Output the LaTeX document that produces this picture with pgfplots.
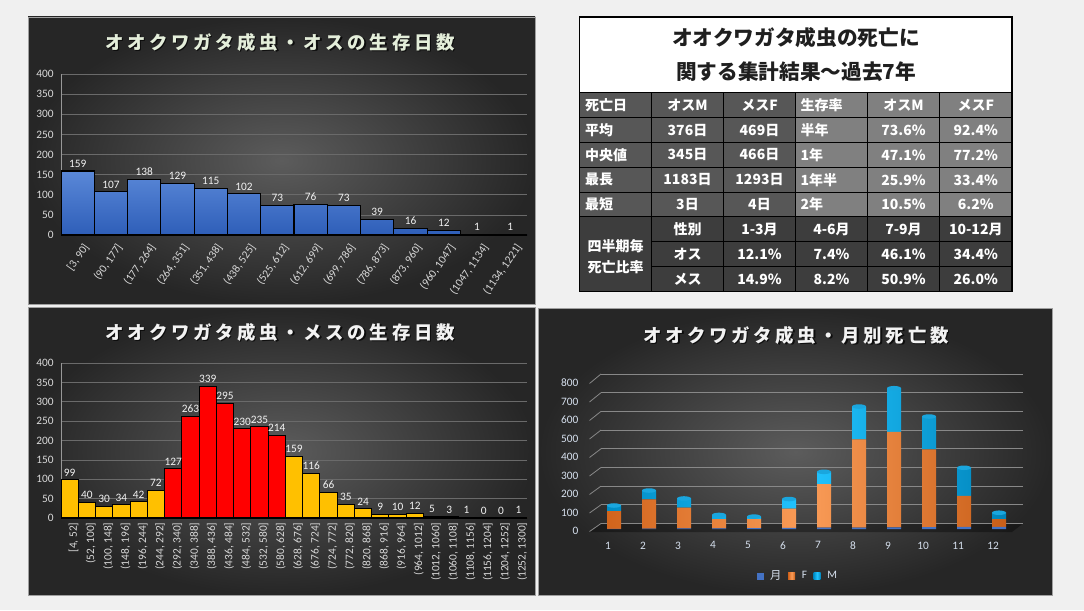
\documentclass[border=0pt]{standalone}
\usepackage{pgfplots}
\pgfplotsset{compat=1.18}
\usepackage{fontspec}
\setmainfont{Carlito}
\newfontfamily\jp{Noto Sans CJK JP}
\newfontfamily\jpt{Noto Sans CJK JP}[LetterSpace=20]
\definecolor{pagebg}{HTML}{F0F0F0}
\definecolor{pin}{HTML}{5C5C5C}
\definecolor{pout}{HTML}{262626}
\definecolor{gridc}{HTML}{6A6A6A}
\definecolor{tickc}{HTML}{D9D9D9}
\definecolor{tickb}{HTML}{D6E0EE}
\definecolor{titleg}{HTML}{E4EEDA}
\definecolor{titlew}{HTML}{F2F2F2}
\definecolor{bluetop}{HTML}{5A88D8}
\definecolor{bluebot}{HTML}{2E5EB8}
\definecolor{fred}{HTML}{FF0000}
\definecolor{fyel}{HTML}{FFC000}
\definecolor{oL}{HTML}{D2641C}
\definecolor{oM}{HTML}{FA9C58}
\definecolor{oR}{HTML}{C85E18}
\definecolor{cL}{HTML}{008CC4}
\definecolor{cM}{HTML}{22C4FF}
\definecolor{cR}{HTML}{0084BA}
\definecolor{capc}{HTML}{1AA6DE}
\definecolor{mblue}{HTML}{4472C4}
\definecolor{tdark}{HTML}{575757}
\definecolor{tmid}{HTML}{808080}
\definecolor{tlow}{HTML}{3D3D3D}
\pgfdeclareplotmark{cap}{\pgfpathellipse{\pgfpointorigin}{\pgfpoint{5.25pt}{0pt}}{\pgfpoint{0pt}{1.7pt}}\pgfusepathqfill}
\pgfplotsset{
  /pgf/number format/assume math mode=true,
  hist/.style={
    scale only axis, anchor=south west,
    ymin=0, ymax=400, ytick={0,50,...,400},
    axis x line*=bottom, axis y line*=left,
    x axis line style={draw=tickc!80!black, line width=0.6pt},
    y axis line style={draw=tickc!70!black, line width=0.6pt},
    major tick length=0pt,
    ymajorgrids, grid style={gridc, line width=0.5pt},
    yticklabel style={font=\fontsize{8.5}{10}\selectfont, text=tickc, xshift=-2pt},
    nodes near coords style={font=\fontsize{8.5}{10}\selectfont, text=titlew, anchor=south, yshift=-1pt},
  }
}
\begin{document}
\begin{tikzpicture}
\begin{scope}[x=0.75pt,y=-0.75pt]
\fill[pagebg] (0,0) rectangle (1084,610);
\shade[inner color=pin, outer color=pout] (28,17) rectangle (535,304);
\shade[inner color=pin, outer color=pout] (28,307.5) rectangle (535,595);
\shade[inner color=pin, outer color=pout] (538.5,308.5) rectangle (1052.5,595);
\draw[gray!75, line width=0.5pt] (28,17) rectangle (535,304);
\draw[gray!75, line width=0.5pt] (28,307.5) rectangle (535,595);
\draw[gray!75, line width=0.5pt] (538.5,308.5) rectangle (1052.5,595);
% titles
\node[text=black, opacity=0.7] at (281.5,43.5) {\jpt\bfseries\fontsize{13.8}{16}\selectfont オオクワガタ成虫・オスの生存日数};
\node[text=titleg] at (280,42) {\jpt\bfseries\fontsize{13.8}{16}\selectfont オオクワガタ成虫・オスの生存日数};
\node[text=black, opacity=0.7] at (281.5,333.5) {\jpt\bfseries\fontsize{13.8}{16}\selectfont オオクワガタ成虫・メスの生存日数};
\node[text=titlew] at (280,332) {\jpt\bfseries\fontsize{13.8}{16}\selectfont オオクワガタ成虫・メスの生存日数};
\node[text=black, opacity=0.7] at (797.5,336.5) {\jpt\bfseries\fontsize{13.8}{16}\selectfont オオクワガタ成虫・月別死亡数};
\node[text=titlew] at (796,335) {\jpt\bfseries\fontsize{13.8}{16}\selectfont オオクワガタ成虫・月別死亡数};
% table
\fill[white] (579.5,17) rectangle (1012,92.7);
\node[text=black!88] at (796,38) {\jp\bfseries\fontsize{15.5}{18}\selectfont オオクワガタ成虫の死亡に};
\node[text=black!88] at (796,72) {\jp\bfseries\fontsize{15.5}{18}\selectfont 関する集計結果〜過去7年};
\fill[tdark] (579.5,92.7) rectangle (795.3,216.1);
\fill[tmid] (795.3,92.7) rectangle (1012,216.1);
\fill[tlow] (579.5,216.1) rectangle (1012,291.7);
\foreach \yy in {92.7,117.6,142.4,167.3,192.2,216.1} {\draw[black, line width=0.6pt] (579.5,\yy) -- (1012,\yy);}
\foreach \yy in {241.3,266.5} {\draw[black, line width=0.6pt] (651.3,\yy) -- (1012,\yy);}
\foreach \xx in {651.3,723.7,795.3,867.3,939.7} {\draw[black, line width=0.6pt] (\xx,92.7) -- (\xx,291.7);}
\draw[black, line width=0.8pt] (579.5,17) rectangle (1012,291.7);
\begin{scope}[every node/.style={text=white, font=\jp\bfseries\fontsize{10.5}{12}\selectfont}]
\node[anchor=west] at (580.5,105.1) {死亡日};
\node at (687.5,105.1) {オスM};
\node at (759.5,105.1) {メスF};
\node[anchor=west] at (796,105.1) {生存率};
\node at (903.5,105.1) {オスM};
\node at (975.8,105.1) {メスF};
\node[anchor=west] at (580.5,130) {平均};
\node at (687.5,130) {376日};
\node at (759.5,130) {469日};
\node[anchor=west] at (796,130) {半年};
\node at (903.5,130) {73.6\%};
\node at (975.8,130) {92.4\%};
\node[anchor=west] at (580.5,154.9) {中央値};
\node at (687.5,154.9) {345日};
\node at (759.5,154.9) {466日};
\node[anchor=west] at (796,154.9) {1年};
\node at (903.5,154.9) {47.1\%};
\node at (975.8,154.9) {77.2\%};
\node[anchor=west] at (580.5,179.8) {最長};
\node at (687.5,179.8) {1183日};
\node at (759.5,179.8) {1293日};
\node[anchor=west] at (796,179.8) {1年半};
\node at (903.5,179.8) {25.9\%};
\node at (975.8,179.8) {33.4\%};
\node[anchor=west] at (580.5,204.6) {最短};
\node at (687.5,204.6) {3日};
\node at (759.5,204.6) {4日};
\node[anchor=west] at (796,204.6) {2年};
\node at (903.5,204.6) {10.5\%};
\node at (975.8,204.6) {6.2\%};
\node at (615.5,246.5) {四半期毎};
\node at (615.5,267) {死亡比率};
\node at (687.5,229.5) {性別};
\node at (759.5,229.5) {1-3月};
\node at (831.5,229.5) {4-6月};
\node at (903.5,229.5) {7-9月};
\node at (975.8,229.5) {10-12月};
\node at (687.5,254.4) {オス};
\node at (759.5,254.4) {12.1\%};
\node at (831.5,254.4) {7.4\%};
\node at (903.5,254.4) {46.1\%};
\node at (975.8,254.4) {34.4\%};
\node at (687.5,279.3) {メス};
\node at (759.5,279.3) {14.9\%};
\node at (831.5,279.3) {8.2\%};
\node at (903.5,279.3) {50.9\%};
\node at (975.8,279.3) {26.0\%};
\end{scope}
% 3D floor and slanted ticks for monthly chart
\fill[black, opacity=0.35] (590,532) -- (601,523.5) -- (1023,523.5) -- (1012,532) -- cycle;
\foreach \k in {0,...,8} {\draw[gridc!80!white, line width=0.6pt] (589.5,{531.5-18.5*\k}) -- (601,{523.5-18.69*\k});}
\end{scope}

% ---- male histogram
\begin{axis}[hist,
  at={(45.75pt,-176.25pt)}, width=349.5pt, height=120.75pt,
  xmin=-0.5, xmax=13.5, xtick={0,...,13},
  xticklabels={{[3, 90]},{(90, 177]},{(177, 264]},{(264, 351]},{(351, 438]},{(438, 525]},{(525, 612]},{(612, 699]},{(699, 786]},{(786, 873]},{(873, 960]},{(960, 1047]},{(1047, 1134]},{(1134, 1221]}},
  xticklabel style={font=\fontsize{8.5}{9}\selectfont, text=tickc, rotate=55, anchor=east, yshift=-10pt, xshift=1pt},
]
\addplot[ybar, bar width=1, bar shift=0pt, draw=black, line width=0.8pt, top color=bluetop, bottom color=bluebot, nodes near coords]
coordinates {(0,159) (1,107) (2,138) (3,129) (4,115) (5,102) (6,73) (7,76) (8,73) (9,39) (10,16) (11,12) (12,1) (13,1)};
\end{axis}

% ---- female histogram
\begin{axis}[hist,
  at={(45.75pt,-388.5pt)}, width=349.5pt, height=116.25pt,
  xmin=-0.5, xmax=26.5, xtick={0,...,26},
  xticklabels={{[4, 52]},{(52, 100]},{(100, 148]},{(148, 196]},{(196, 244]},{(244, 292]},{(292, 340]},{(340, 388]},{(388, 436]},{(436, 484]},{(484, 532]},{(532, 580]},{(580, 628]},{(628, 676]},{(676, 724]},{(724, 772]},{(772, 820]},{(820, 868]},{(868, 916]},{(916, 964]},{(964, 1012]},{(1012, 1060]},{(1060, 1108]},{(1108, 1156]},{(1156, 1204]},{(1204, 1252]},{(1252, 1300]}},
  xticklabel style={font=\fontsize{8.5}{9}\selectfont, text=tickc, rotate=90, anchor=east, yshift=-3pt},
]
\addplot[ybar, bar width=1, bar shift=0pt, draw=black, line width=0.8pt, fill=fyel, nodes near coords]
coordinates {(0,99) (1,40) (2,30) (3,34) (4,42) (5,72) (13,159) (14,116) (15,66) (16,35) (17,24) (18,9) (19,10) (20,12) (21,5) (22,3) (23,1) (24,0) (25,0) (26,1)};
\addplot[ybar, bar width=1, bar shift=0pt, draw=black, line width=0.8pt, fill=fred, nodes near coords]
coordinates {(6,127) (7,263) (8,339) (9,295) (10,230) (11,235) (12,214)};
\end{axis}

% ---- monthly chart: back wall grid
\begin{axis}[scale only axis, anchor=south west,
  at={(450.75pt,-392.625pt)}, width=316.5pt, height=112.125pt,
  xmin=0, xmax=1, ymin=0, ymax=800, ytick={0,100,...,800}, xtick=\empty,
  yticklabels={}, major tick length=0pt, axis line style={draw=none},
  ymajorgrids, grid style={gridc!80!white, line width=0.6pt}]
\addplot[draw=none] coordinates {(0,0) (1,800)};
\end{axis}

% ---- monthly chart: stacked cylinders
\begin{axis}[scale only axis, anchor=south west,
  at={(447.375pt,-396.75pt)}, width=315pt, height=111pt,
  xmin=0.5, xmax=12.5, ymin=0, ymax=800, ytick={0,100,...,800}, xtick={1,...,12},
  ybar stacked, bar width=10.5pt,
  axis line style={draw=none}, major tick length=0pt,
  yticklabel style={font=\fontsize{8.5}{10}\selectfont, text=tickb, xshift=-10pt, yshift=-1.5pt},
  xticklabel style={font=\fontsize{8.5}{10}\selectfont, text=tickb, xshift=-4.5pt, yshift=-6pt},
  legend style={at={(0.48,-0.318)}, anchor=center, legend columns=3, draw=none, fill=none,
    text=tickb, font=\fontsize{8.5}{10}\selectfont, column sep=3pt},
  legend image code/.code={\fill[#1] (0pt,-2.6pt) rectangle (5.2pt,2.6pt);},
]
\addplot[fill=mblue, draw=none] coordinates {(1,1) (2,2) (3,3) (4,4) (5,5) (6,6) (7,7) (8,8) (9,9) (10,10) (11,11) (12,12)};
\addplot[left color=oL, right color=oR, middle color=oM, draw=none] coordinates {(1,96) (2,158) (3,112) (4,50) (5,48) (6,104) (7,236) (8,476) (9,516) (10,420) (11,168) (12,42)};
\addplot[left color=cL, right color=cR, middle color=cM, draw=none] coordinates {(1,30) (2,48) (3,50) (4,22) (5,14) (6,52) (7,66) (8,178) (9,236) (10,178) (11,152) (12,34)};
\legend{{\jp 月},F,M}
\end{axis}

% ---- monthly chart: cylinder caps (totals of the stacks above)
\begin{axis}[scale only axis, anchor=south west,
  at={(447.375pt,-396.75pt)}, width=315pt, height=111pt,
  xmin=0.5, xmax=12.5, ymin=0, ymax=800, hide axis, clip=false]
\addplot[only marks, mark=cap, color=capc] coordinates {(1,127) (2,208) (3,165) (4,76) (5,67) (6,162) (7,309) (8,662) (9,761) (10,608) (11,331) (12,88)};
\end{axis}
\end{tikzpicture}
\end{document}
